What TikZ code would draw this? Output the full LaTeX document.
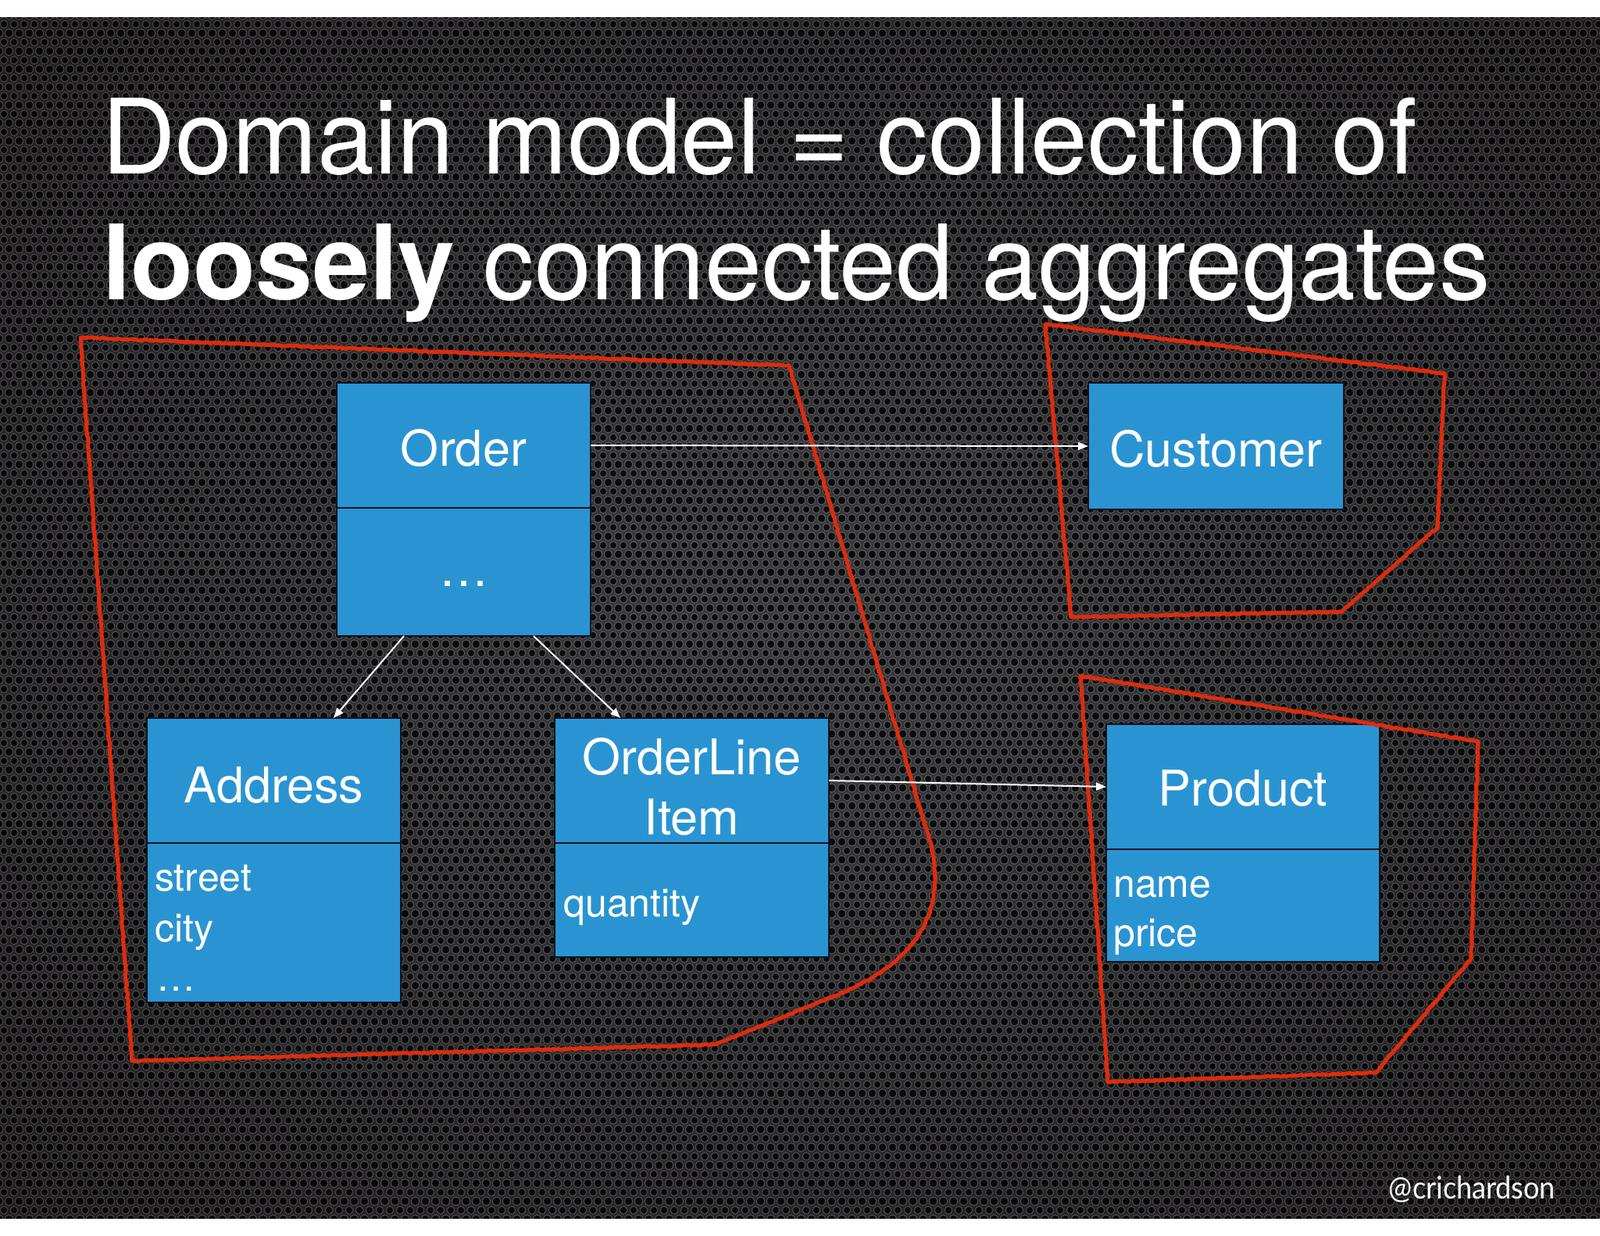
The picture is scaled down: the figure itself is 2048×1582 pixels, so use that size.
\documentclass[tikz,border=0pt]{standalone}
\usepackage{fontspec}
\setmainfont{TeX Gyre Heros}
\newfontfamily\footfont{Lato}
\usetikzlibrary{arrows.meta,patterns,decorations.pathmorphing,calc}

\definecolor{boxblue}{RGB}{42,148,210}
\definecolor{boxline}{RGB}{12,20,30}
\definecolor{redline}{RGB}{222,44,14}
\definecolor{bgin}{RGB}{58,58,62}
\definecolor{bgmida}{RGB}{44,43,46}
\definecolor{bgmidb}{RGB}{26,22,23}
\definecolor{bgout}{RGB}{12,6,6}

\pgfdeclareradialshading{bgshade}{\pgfpoint{0bp}{0bp}}{color(0bp)=(bgin); color(18bp)=(bgmida); color(42bp)=(bgmidb); color(72bp)=(bgout)}

\pgfdeclarepatternformonly{holes}{\pgfpointorigin}{\pgfpoint{13pt}{22.5pt}}{\pgfpoint{13pt}{22.5pt}}{%
  \pgfpathcircle{\pgfpoint{0pt}{0pt}}{4.2pt}%
  \pgfpathcircle{\pgfpoint{13pt}{0pt}}{4.2pt}%
  \pgfpathcircle{\pgfpoint{0pt}{22.5pt}}{4.2pt}%
  \pgfpathcircle{\pgfpoint{13pt}{22.5pt}}{4.2pt}%
  \pgfpathcircle{\pgfpoint{6.5pt}{11.25pt}}{4.2pt}%
  \pgfusepath{fill}}
\pgfdeclarepatternformonly{rims}{\pgfpointorigin}{\pgfpoint{13pt}{22.5pt}}{\pgfpoint{13pt}{22.5pt}}{%
  \pgfsetlinewidth{1.4pt}%
  \pgfpathcircle{\pgfpoint{0pt}{0pt}}{5pt}%
  \pgfpathcircle{\pgfpoint{13pt}{0pt}}{5pt}%
  \pgfpathcircle{\pgfpoint{0pt}{22.5pt}}{5pt}%
  \pgfpathcircle{\pgfpoint{13pt}{22.5pt}}{5pt}%
  \pgfpathcircle{\pgfpoint{6.5pt}{11.25pt}}{5pt}%
  \pgfusepath{stroke}}

\tikzset{
  umlbox/.style={draw=boxline, line width=1.6pt, fill=boxblue, inner sep=0pt, outer sep=0pt},
  lbl/.style={text=white, inner sep=0pt, anchor=base, font=\fontsize{63}{75}\selectfont},
  attr/.style={text=white, inner sep=0pt, anchor=base west, font=\fontsize{50}{60}\selectfont},
  conn/.style={draw=white, line width=2pt, -{Triangle[length=13pt,width=10pt]}},
  aggr/.style={draw=redline, line width=5pt, line join=round, decorate,
    decoration={random steps, segment length=2.5pt, amplitude=0.8pt}},
  ttl/.style={text=white, inner sep=0pt, anchor=base west, font=\fontsize{133}{150}\selectfont}
}

\begin{document}
\begin{tikzpicture}[x=1pt, y=-1pt]
\useasboundingbox (0,0) rectangle (2048,1582);
\fill[white] (0,0) rectangle (2048,1582);
% background
\shade[shading=bgshade] (0,22) rectangle (2048,1559);
\fill[pattern=rims, pattern color=white, fill opacity=0.16] (0,22) rectangle (2048,1559);
\fill[pattern=holes, pattern color=black, fill opacity=0.78] (0,22) rectangle (2048,1559);

% title
\node[ttl] (title1) at (130,222) {\scalebox{0.984}[1]{Domain model = collection of}};
\node[ttl] (title2) at (131,383) {\scalebox{0.984}[1]{\textbf{loosely} connected aggregates}};

% boxes
\node[umlbox, minimum width=325pt, minimum height=160pt] (order) at (593.5,570) {};
\node[umlbox, minimum width=325pt, minimum height=164pt] (orderb) at (593.5,732) {};
\node[umlbox, minimum width=327pt, minimum height=162pt] (customer) at (1556.5,571) {};
\node[umlbox, minimum width=325pt, minimum height=160pt] (address) at (350.5,999) {};
\node[umlbox, minimum width=325pt, minimum height=204pt] (addressb) at (350.5,1181) {};
\node[umlbox, minimum width=351pt, minimum height=160pt] (oli) at (885.5,999) {};
\node[umlbox, minimum width=351pt, minimum height=146pt] (olib) at (885.5,1152) {};
\node[umlbox, minimum width=350pt, minimum height=160pt] (product) at (1591,1007) {};
\node[umlbox, minimum width=350pt, minimum height=144pt] (productb) at (1591,1159) {};

% labels
\node[lbl] (orderlbl) at (593.5,596) {Order};
\node[lbl] (orderdots) at (593.5,750) {…};
\node[lbl] (customerlbl) at (1556.5,597) {Customer};
\node[lbl] (addresslbl) at (350.5,1027) {Address};
\node[lbl] (olilbl1) at (885.5,991) {OrderLine};
\node[lbl] (olilbl2) at (885.5,1068) {Item};
\node[lbl] (productlbl) at (1591,1031) {Product};

\node[attr] (street) at (198,1140) {street};
\node[attr] (city) at (198,1205) {city};
\node[attr] (adots) at (200,1268) {…};
\node[attr] (qty) at (721,1173) {quantity};
\node[attr] (pname) at (1425,1148) {name};
\node[attr] (price) at (1425,1211) {price};

% aggregate outlines
\draw[aggr] (103,432) -- (1010,468) -- (1182,1050)
   .. controls (1215,1140) and (1200,1225) .. (1060,1278)
   -- (915,1337) -- (169,1358) -- cycle;
\draw[aggr] (1338,415) -- (1849,478) -- (1840,675) -- (1717,783) -- (1371,790) -- cycle;
\draw[aggr] (1383,865) -- (1892,949) -- (1883,1227) -- (1761,1373) -- (1418,1385) -- cycle;

% connectors
\draw[conn] (order.east) -- (customer.west);
\draw[conn] (oli.east) -- (product.west);
\draw[conn] ($(orderb.south west)!0.265!(orderb.south east)$) -- ($(address.north west)!0.735!(address.north east)$);
\draw[conn] ($(orderb.south west)!0.775!(orderb.south east)$) -- ($(oli.north west)!0.24!(oli.north east)$);

% footer
\node[text=white, inner sep=0pt, anchor=base east, font=\footfont\fontsize{40}{48}\selectfont] (footer) at (1991,1534) {\scalebox{0.9}[1]{@crichardson}};
\end{tikzpicture}
\end{document}
